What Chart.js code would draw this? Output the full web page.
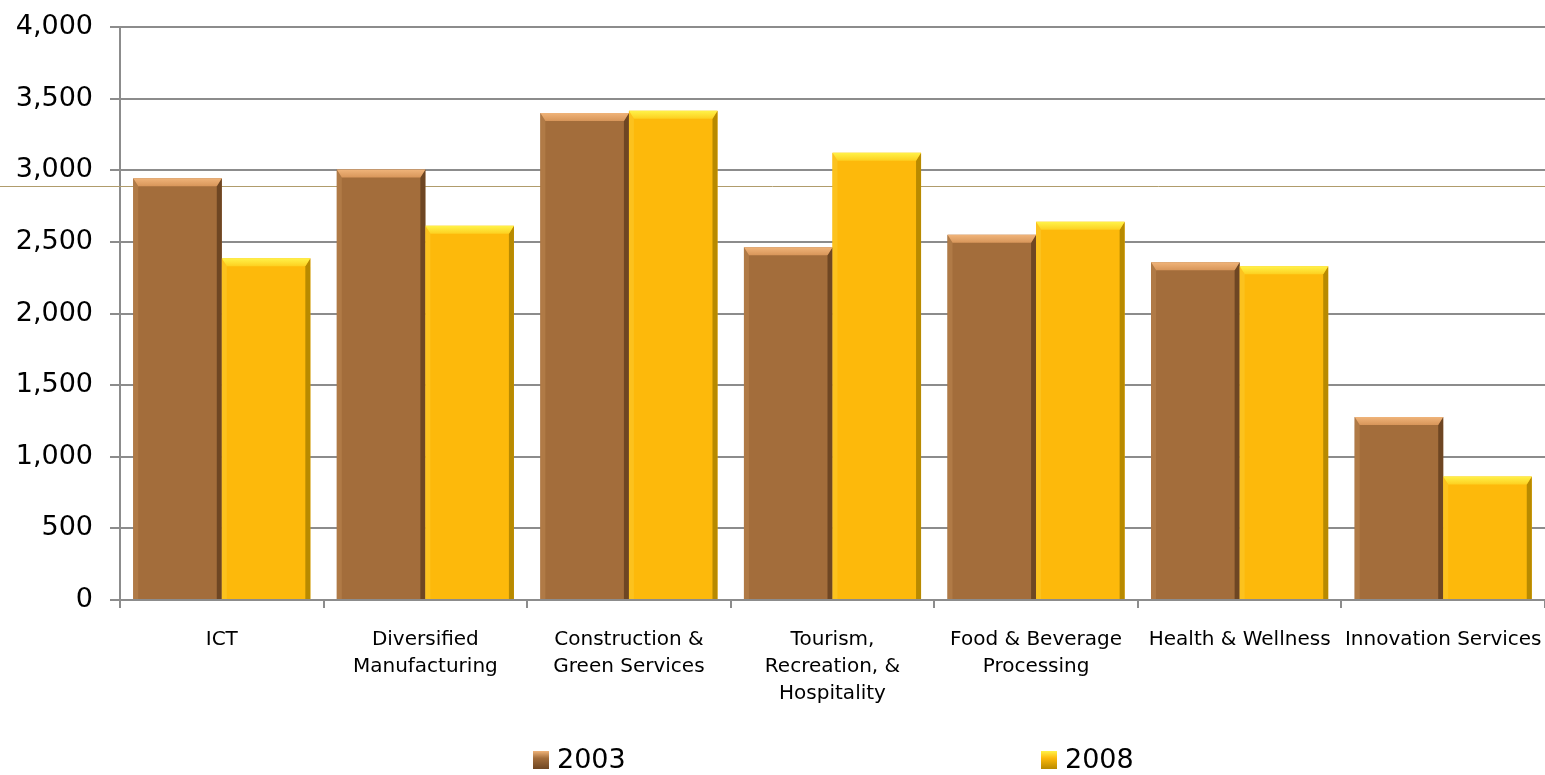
<!DOCTYPE html>
<html>
<head>
<meta charset="utf-8">
<script src="https://cdn.jsdelivr.net/npm/chart.js@4.4.0/dist/chart.umd.min.js"></script>
<style>
  html, body { margin: 0; padding: 0; background: #fff; }
  #wrap { width: 1545px; height: 775px; }
</style>
</head>
<body>
<div id="wrap"><canvas id="chart"></canvas></div>
<script>
// Data
const categories = [
    'ICT',
    ['Diversified', 'Manufacturing'],
    ['Construction &', 'Green Services'],
    ['Tourism,', 'Recreation, &', 'Hospitality'],
    ['Food & Beverage', 'Processing'],
    'Health & Wellness',
    'Innovation Services'
];
const seriesLabels = ['2003', '2008'];
const values2003 = [2945, 3005, 3400, 2463, 2549, 2358, 1278];
const values2008 = [2386, 2612, 3416, 3123, 2640, 2330, 863];
const yMin = 0;
const yMax = 4000;
const yStep = 500;
const refLineValue = 2890;

const gridGrey = '#8c8c8c';
const fontFamily = "'DejaVu Sans', Verdana, sans-serif";

// Thin tan line across the whole picture, behind the bars
const refLinePlugin = {
    id: 'refLine',
    beforeDatasetsDraw(chart) {
        const ctx = chart.ctx;
        const y = Math.round(chart.scales.y.getPixelForValue(refLineValue)) + 0.5;
        ctx.save();
        ctx.strokeStyle = '#b09c6c';
        ctx.lineWidth = 1;
        ctx.beginPath();
        ctx.moveTo(0, y);
        ctx.lineTo(chart.width, y);
        ctx.stroke();
        ctx.restore();
    }
};

// Bevel edges on each bar, like the office chart style
const bevelPlugin = {
    id: 'bevel',
    afterDatasetsDraw(chart) {
        const ctx = chart.ctx;
        chart.data.datasets.forEach((ds, i) => {
            const meta = chart.getDatasetMeta(i);
            meta.data.forEach(bar => {
                const p = bar.getProps(['x', 'y', 'base', 'width'], true);
                const l = p.x - p.width / 2, r = p.x + p.width / 2;
                const t = p.y, b = p.base;
                const dt = 8, ds2 = 5;
                ctx.save();
                // left
                ctx.fillStyle = ds.bevelLeft;
                ctx.beginPath();
                ctx.moveTo(l, t); ctx.lineTo(l + ds2, t + dt); ctx.lineTo(l + ds2, b); ctx.lineTo(l, b);
                ctx.closePath(); ctx.fill();
                // right
                ctx.fillStyle = ds.bevelRight;
                ctx.beginPath();
                ctx.moveTo(r, t); ctx.lineTo(r - ds2, t + dt); ctx.lineTo(r - ds2, b); ctx.lineTo(r, b);
                ctx.closePath(); ctx.fill();
                // top
                const g = ctx.createLinearGradient(0, t, 0, t + dt);
                g.addColorStop(0, ds.bevelTop[0]);
                g.addColorStop(1, ds.bevelTop[1]);
                ctx.fillStyle = g;
                ctx.beginPath();
                ctx.moveTo(l, t); ctx.lineTo(r, t); ctx.lineTo(r - ds2, t + dt); ctx.lineTo(l + ds2, t + dt);
                ctx.closePath(); ctx.fill();
                ctx.restore();
            });
        });
    }
};

// Legend drawn by hand so the two items can sit far apart
const legendSlots = [0.29, 0.646];
const bottomLegendPlugin = {
    id: 'bottomLegend',
    afterDraw(chart) {
        const ctx = chart.ctx;
        const area = chart.chartArea;
        const cy = chart.height - 15;
        ctx.save();
        ctx.font = '27px ' + fontFamily;
        ctx.textBaseline = 'middle';
        chart.data.datasets.forEach((ds, i) => {
            const x = Math.round(area.left + area.width * legendSlots[i]);
            const g = ctx.createLinearGradient(0, cy - 9, 0, cy + 9);
            g.addColorStop(0, ds.bevelTop[0]);
            g.addColorStop(0.4, ds.backgroundColor);
            g.addColorStop(1, ds.bevelRight);
            ctx.fillStyle = g;
            ctx.fillRect(x, cy - 9, 16, 18);
            ctx.fillStyle = '#000';
            ctx.fillText(ds.label, x + 24, cy + 1);
        });
        ctx.restore();
    }
};

const ctx = document.getElementById('chart').getContext('2d');
const chart = new Chart(ctx, {
    type: 'bar',
    data: {
        labels: categories,
        datasets: [
            {
                label: seriesLabels[0],
                data: values2003,
                backgroundColor: '#a36d3b',
                bevelTop: ['#f0b47a', '#d8965a'],
                bevelLeft: '#b07a46',
                bevelRight: '#6e4623',
                barPercentage: 1,
                categoryPercentage: 0.87
            },
            {
                label: seriesLabels[1],
                data: values2008,
                backgroundColor: '#fdb90b',
                bevelTop: ['#fff34a', '#fdd020'],
                bevelLeft: '#fcc21e',
                bevelRight: '#b88a00',
                barPercentage: 1,
                categoryPercentage: 0.87
            }
        ]
    },
    options: {
        responsive: true,
        maintainAspectRatio: false,
        animation: false,
        layout: {
            padding: { top: 27, right: 0, left: 0, bottom: 0 }
        },
        scales: {
            x: {
                grid: {
                    offset: true,
                    drawOnChartArea: false,
                    tickLength: 8,
                    color: gridGrey,
                    lineWidth: 2
                },
                border: { color: gridGrey, width: 2 },
                ticks: {
                    color: '#000',
                    font: { family: fontFamily, size: 20, lineHeight: 1.35 },
                    maxRotation: 0,
                    autoSkip: false,
                    padding: 18
                },
                afterFit(scale) {
                    scale.height = 175;
                    scale.paddingLeft = 0;
                    scale.paddingRight = 0;
                }
            },
            y: {
                min: yMin,
                max: yMax,
                grid: {
                    color: gridGrey,
                    lineWidth: 2,
                    tickLength: 10
                },
                border: { color: gridGrey, width: 2 },
                ticks: {
                    stepSize: yStep,
                    color: '#000',
                    font: { family: fontFamily, size: 27 },
                    padding: 17,
                    callback: v => v.toLocaleString('en-US')
                },
                afterFit(scale) {
                    scale.width = 120;
                    scale.paddingTop = 0;
                    scale.paddingBottom = 0;
                }
            }
        },
        plugins: {
            legend: { display: false },
            tooltip: { enabled: false }
        }
    },
    plugins: [refLinePlugin, bevelPlugin, bottomLegendPlugin]
});
</script>
</body>
</html>
